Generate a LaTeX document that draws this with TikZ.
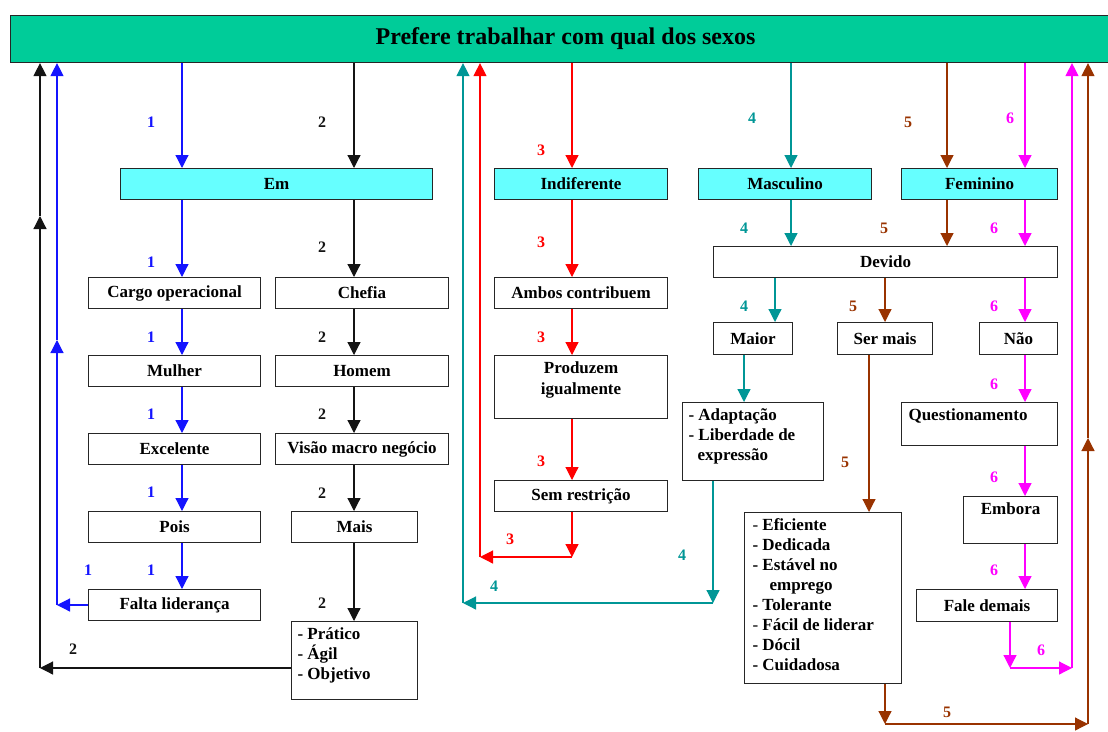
\documentclass[tikz,border=0pt]{standalone}
\usepackage{fontspec}
\setmainfont{Liberation Serif}
\usetikzlibrary{arrows.meta}
\definecolor{titlegreen}{RGB}{0,204,153}
\definecolor{boxcyan}{RGB}{102,255,255}
\definecolor{cBlue}{RGB}{20,20,255}
\definecolor{cRed}{RGB}{255,0,0}
\definecolor{cTeal}{RGB}{0,150,150}
\definecolor{cBrown}{RGB}{153,51,0}
\definecolor{cMag}{RGB}{255,0,255}
\definecolor{cBlack}{RGB}{20,20,20}
% text block pinned to the top of a box: width, height, content
\newcommand\tbxt[3]{\begin{minipage}[c][#2][t]{#1}\rule{0pt}{18pt}#3\end{minipage}}
\begin{document}
\begin{tikzpicture}[x=1pt,y=-1pt,
  box/.style={draw=black!85, line width=1.1pt, fill=white, inner sep=0pt,
              anchor=north west, font=\fontsize{17}{20}\selectfont\bfseries},
  head/.style={box, fill=boxcyan},
  tb/.style={box, inner xsep=#1, inner ysep=0pt},
  flow/.style={line width=1.2pt, -{Triangle[length=13pt,width=13pt]}},
  num/.style={font=\fontsize{16}{16}\selectfont\bfseries, inner sep=0pt},
  p1/.style={flow, color=cBlue}, n1/.style={num, text=cBlue},
  p2/.style={flow, color=cBlack}, n2/.style={num, text=cBlack},
  p3/.style={flow, color=cRed}, n3/.style={num, text=cRed},
  p4/.style={flow, color=cTeal}, n4/.style={num, text=cTeal},
  p5/.style={flow, color=cBrown}, n5/.style={num, text=cBrown},
  p6/.style={flow, color=cMag}, n6/.style={num, text=cMag}]
\useasboundingbox (0,0) rectangle (1108,731);

% ---- header ----
\node[box, fill=titlegreen, minimum width=1110pt, minimum height=47pt,
      font=\fontsize{24}{26}\selectfont\bfseries] (title) at (10,15) {Prefere trabalhar com qual dos sexos};

% ---- answers ----
\node[head, minimum width=312pt, minimum height=31pt] (em)    at (120,168) {Em};
\node[head, minimum width=173pt, minimum height=31pt] (indif) at (494,168) {Indiferente};
\node[head, minimum width=173pt, minimum height=31pt] (masc)  at (698,168) {Masculino};
\node[head, minimum width=156pt, minimum height=31pt] (fem)   at (901,168) {Feminino};

% ---- branch 1 ----
\node[box, minimum width=172pt, minimum height=31pt] (cargo)  at (88,277) {Cargo operacional};
\node[box, minimum width=172pt, minimum height=31pt] (mulher) at (88,355) {Mulher};
\node[box, minimum width=172pt, minimum height=31pt] (excel)  at (88,433) {Excelente};
\node[box, minimum width=172pt, minimum height=31pt] (pois)   at (88,511) {Pois};
\node[box, minimum width=172pt, minimum height=31pt] (falta)  at (88,589) {Falta liderança};

% ---- branch 2 ----
\node[box, minimum width=173pt, minimum height=31pt] (chefia) at (275,277) {Chefia};
\node[box, minimum width=173pt, minimum height=31pt] (homem)  at (275,355) {Homem};
\node[box, minimum width=173pt, minimum height=31pt] (visao)  at (275,433) {Visão macro negócio};
\node[box, minimum width=126pt, minimum height=31pt] (mais)   at (291,511) {Mais};
\node[tb=6pt] (pratico) at (291,621) {\tbxt{114pt}{78pt}{- Prático\\- Ágil\\- Objetivo}};

% ---- branch 3 ----
\node[box, minimum width=173pt, minimum height=31pt] (ambos) at (494,277) {Ambos contribuem};
\node[tb=0pt] (produz) at (494,355) {\tbxt{173pt}{63pt}{\centering Produzem\\[1pt]igualmente}};
\node[box, minimum width=173pt, minimum height=31pt] (semres) at (494,480) {Sem restrição};

% ---- branches 4, 5, 6 ----
\node[box, minimum width=344pt, minimum height=31pt] (devido)  at (713,246) {Devido};
\node[box, minimum width=79pt,  minimum height=32pt] (maior)   at (713,322) {Maior};
\node[box, minimum width=95pt,  minimum height=32pt] (sermais) at (837,322) {Ser mais};
\node[box, minimum width=78pt,  minimum height=32pt] (nao)     at (979,322) {Não};
\node[tb=6pt] (adapt) at (682,402) {\tbxt{129pt}{78pt}{- Adaptação\\- Liberdade de\\\hspace*{9pt}expressão}};
\node[tb=8pt] (efic) at (744,512) {\tbxt{141pt}{171pt}{{\mdseries -} Eficiente\\- Dedicada\\- Estável no\\\hspace*{17pt}emprego\\- Tolerante\\{\mdseries -} Fácil de liderar\\- Dócil\\- Cuidadosa}};
\node[tb=7pt] (quest)  at (901,402) {\tbxt{142pt}{43pt}{Questionamento}};
\node[tb=0pt] (embora) at (963,496) {\tbxt{94pt}{47pt}{\centering Embora}};
\node[box, minimum width=141pt, minimum height=32pt] (fale) at (916,589) {Fale demais};

% ---- connector columns and turning points ----
\coordinate (x1) at (182,0);  \coordinate (x2) at (354,0);
\coordinate (x3) at (572,0);  \coordinate (x4) at (791,0);
\coordinate (x5) at (947,0);  \coordinate (x6) at (1025,0);
\coordinate (xa) at (775,0);  \coordinate (xb) at (744,0);
\coordinate (xc) at (885,0);  \coordinate (xd) at (869,0);
\coordinate (xe) at (713,0);  \coordinate (xf) at (1010,0);

\coordinate (bkTurn) at (40,668);   \coordinate (bkMid) at (40,216);
\coordinate (blTurn) at (57,605);   \coordinate (blMid) at (57,340);
\coordinate (rdDrop) at (572,557);  \coordinate (rdTurn) at (480,557);
\coordinate (tlDrop) at (713,603);  \coordinate (tlTurn) at (463,603);
\coordinate (mgDrop) at (1010,668); \coordinate (mgTurn) at (1072,668);
\coordinate (brDrop) at (885,724);  \coordinate (brTurn) at (1088,724);
\coordinate (brMid) at (1088,438);

% ---- branch 1 (blue) ----
\draw[p1] (title.south -| x1) -- (em.north -| x1);
\draw[p1] (em.south -| x1) -- (cargo.north -| x1);
\draw[p1] (cargo.south -| x1) -- (mulher.north -| x1);
\draw[p1] (mulher.south -| x1) -- (excel.north -| x1);
\draw[p1] (excel.south -| x1) -- (pois.north -| x1);
\draw[p1] (pois.south -| x1) -- (falta.north -| x1);
\draw[p1] (falta.west |- blTurn) -- (blTurn);
\draw[p1] (blTurn) -- (blMid);
\draw[p1] (blMid) -- (title.south -| blMid);

% ---- branch 2 (black) ----
\draw[p2] (title.south -| x2) -- (em.north -| x2);
\draw[p2] (em.south -| x2) -- (chefia.north -| x2);
\draw[p2] (chefia.south -| x2) -- (homem.north -| x2);
\draw[p2] (homem.south -| x2) -- (visao.north -| x2);
\draw[p2] (visao.south -| x2) -- (mais.north -| x2);
\draw[p2] (mais.south -| x2) -- (pratico.north -| x2);
\draw[p2] (pratico.west |- bkTurn) -- (bkTurn);
\draw[p2] (bkTurn) -- (bkMid);
\draw[p2] (bkMid) -- (title.south -| bkMid);

% ---- branch 3 (red) ----
\draw[p3] (title.south -| x3) -- (indif.north -| x3);
\draw[p3] (indif.south -| x3) -- (ambos.north -| x3);
\draw[p3] (ambos.south -| x3) -- (produz.north -| x3);
\draw[p3] (produz.south -| x3) -- (semres.north -| x3);
\draw[p3] (semres.south -| x3) -- (rdDrop);
\draw[p3] (rdDrop) -- (rdTurn);
\draw[p3] (rdTurn) -- (title.south -| rdTurn);

% ---- branch 4 (teal) ----
\draw[p4] (title.south -| x4) -- (masc.north -| x4);
\draw[p4] (masc.south -| x4) -- (devido.north -| x4);
\draw[p4] (devido.south -| xa) -- (maior.north -| xa);
\draw[p4] (maior.south -| xb) -- (adapt.north -| xb);
\draw[p4] (adapt.south -| xe) -- (tlDrop);
\draw[p4] (tlDrop) -- (tlTurn);
\draw[p4] (tlTurn) -- (title.south -| tlTurn);

% ---- branch 5 (brown) ----
\draw[p5] (title.south -| x5) -- (fem.north -| x5);
\draw[p5] (fem.south -| x5) -- (devido.north -| x5);
\draw[p5] (devido.south -| xc) -- (sermais.north -| xc);
\draw[p5] (sermais.south -| xd) -- (efic.north -| xd);
\draw[p5] (efic.south -| xc) -- (brDrop);
\draw[p5] (brDrop) -- (brTurn);
\draw[p5] (brTurn) -- (brMid);
\draw[p5] (brMid) -- (title.south -| brMid);

% ---- branch 6 (magenta) ----
\draw[p6] (title.south -| x6) -- (fem.north -| x6);
\draw[p6] (fem.south -| x6) -- (devido.north -| x6);
\draw[p6] (devido.south -| x6) -- (nao.north -| x6);
\draw[p6] (nao.south -| x6) -- (quest.north -| x6);
\draw[p6] (quest.south -| x6) -- (embora.north -| x6);
\draw[p6] (embora.south -| x6) -- (fale.north -| x6);
\draw[p6] (fale.south -| xf) -- (mgDrop);
\draw[p6] (mgDrop) -- (mgTurn);
\draw[p6] (mgTurn) -- (title.south -| mgTurn);

% ---- branch numbers ----
\node[n1] (a1) at (151,122) {1};  \node[n1] (a2) at (151,262) {1};
\node[n1] (a3) at (151,337) {1};  \node[n1] (a4) at (151,414) {1};
\node[n1] (a5) at (151,492) {1};  \node[n1] (a6) at (151,570) {1};
\node[n1] (a7) at (88,570) {1};

\node[n2] (b1) at (322,122) {2};  \node[n2] (b2) at (322,247) {2};
\node[n2] (b3) at (322,337) {2};  \node[n2] (b4) at (322,414) {2};
\node[n2] (b5) at (322,493) {2};  \node[n2] (b6) at (322,603) {2};
\node[n2] (b7) at (73,649) {2};

\node[n3] (c1) at (541,150) {3};  \node[n3] (c2) at (541,242) {3};
\node[n3] (c3) at (541,337) {3};  \node[n3] (c4) at (541,461) {3};
\node[n3] (c5) at (510,539) {3};

\node[n4] (d1) at (752,118) {4};  \node[n4] (d2) at (744,228) {4};
\node[n4] (d3) at (744,306) {4};  \node[n4] (d4) at (682,555) {4};
\node[n4] (d5) at (494,586) {4};

\node[n5] (e1) at (908,122) {5};  \node[n5] (e2) at (884,228) {5};
\node[n5] (e3) at (853,306) {5};  \node[n5] (e4) at (845,462) {5};
\node[n5] (e5) at (947,712) {5};

\node[n6] (g1) at (1010,118) {6}; \node[n6] (g2) at (994,228) {6};
\node[n6] (g3) at (994,306) {6};  \node[n6] (g4) at (994,384) {6};
\node[n6] (g5) at (994,477) {6};  \node[n6] (g6) at (994,570) {6};
\node[n6] (g7) at (1041,650) {6};
\end{tikzpicture}
\end{document}
